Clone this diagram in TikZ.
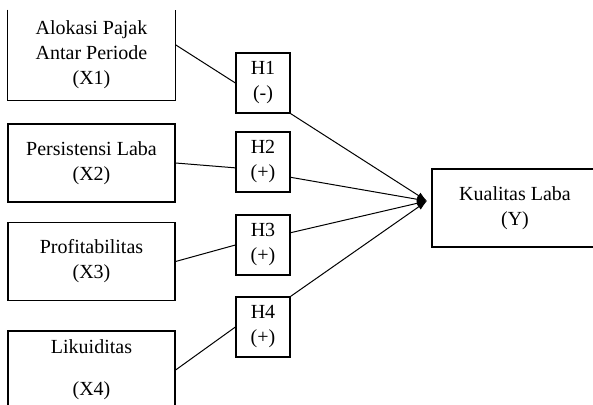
\documentclass[tikz,border=0pt]{standalone}
\usepackage{fontspec}
\setmainfont{Liberation Serif}
\usetikzlibrary{arrows.meta}

\begin{document}
\begin{tikzpicture}[x=0.5pt,y=-0.5pt,
    txt/.style={align=center, inner sep=0pt, font=\fontsize{10}{12.5}\selectfont},
    varbox/.style={txt, draw, line width=0.6pt, minimum width=83.5pt, minimum height=39pt},
    hypbox/.style={txt, draw, line width=0.6pt, minimum width=27pt, minimum height=30pt},
    link/.style={line width=0.5pt},
    toY/.style={line width=0.5pt, -{Latex[length=5pt,width=3.5pt]}}]
    \useasboundingbox (0,0) rectangle (593,405);
    \clip (0,0) rectangle (593,405);
            % independent variables
            \node [txt, minimum width=83.5pt, minimum height=45pt] (x1) at (91.5,55) {Alokasi Pajak\\Antar Periode\\(X1)};
            \draw [line width=0.6pt] (x1.north west) -- (x1.south west) -- (x1.south east) -- (x1.north east);
            \node [varbox] (x2) at (91.5,163) {Persistensi Laba\\(X2)};
            \node [varbox] (x3) at (91.5,261.5) {Profitabilitas\\(X3)};
            \node [varbox] (x4) at (91.5,370) {Likuiditas\\[8.5pt](X4)};
            % hypotheses
            \node [hypbox] (h1) at (263,83) {H1\\(-)};
            \node [hypbox] (h2) at (263,162) {H2\\(+)};
            \node [hypbox] (h3) at (263,245) {H3\\(+)};
            \node [hypbox] (h4) at (263,327) {H4\\(+)};
            % dependent variable
            \node [varbox, minimum width=83pt] (y) at (515,208) {Kualitas Laba\\(Y)};
            \coordinate (jct) at (427,201);
            \draw [link] (x1.7) -- (h1.west);
            \draw [link] (x2.east) -- (h2.192);
            \draw [link] (x3.east) -- (h3.west);
            \draw [link] (x4.east) -- (h4.west);
            \draw [toY] (h1.south east) -- (jct);
            \draw [toY] (h2.331) -- (jct);
            \draw [toY] (h3.24) -- (jct);
            \draw [toY] (h4.north east) -- (jct);
        \end{tikzpicture}
\end{document}
